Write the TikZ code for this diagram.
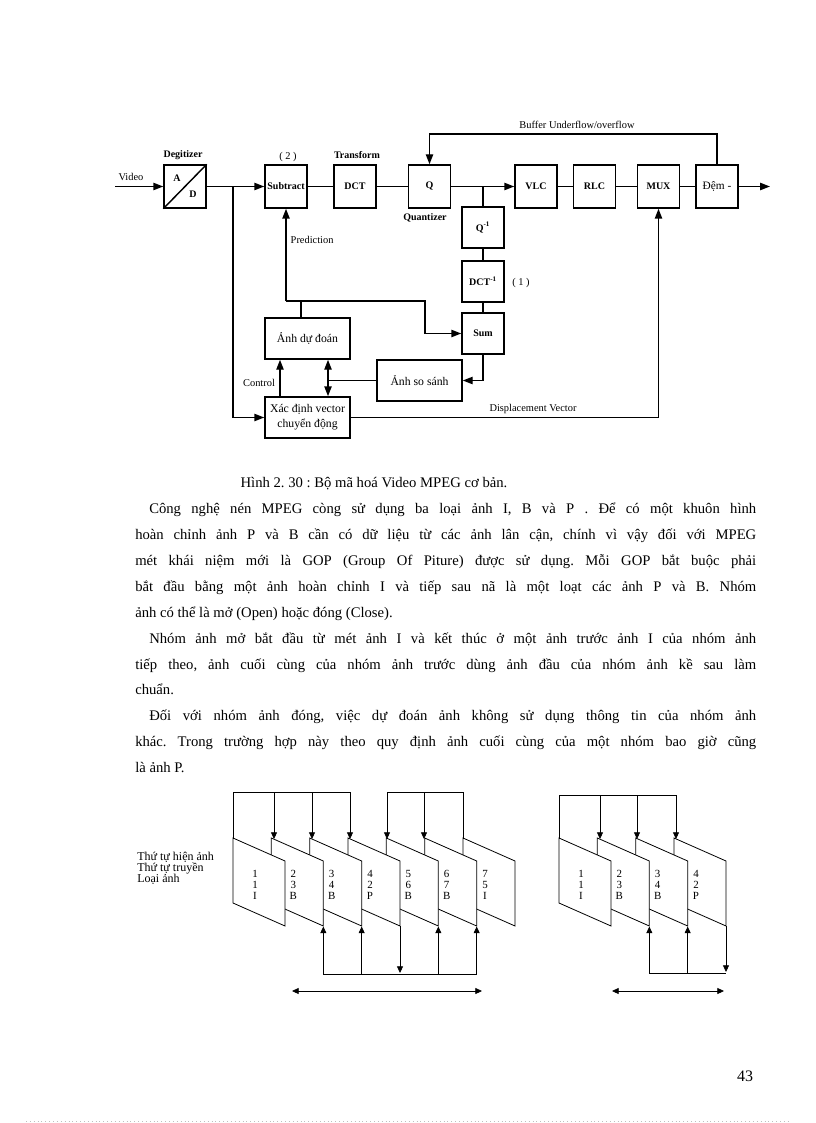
\documentclass[tikz,border=0pt]{standalone}
\usepackage{fontspec}
\setmainfont{Liberation Serif}
\usetikzlibrary{arrows.meta,calc}
\frenchspacing
\begin{document}
\begin{tikzpicture}[x=0.75pt,y=-0.75pt,
  blk/.style={draw,line width=1.1pt,inner sep=0pt,minimum width=31.5pt,minimum height=32.25pt,font=\fontsize{7.5}{8}\selectfont\bfseries},
  wblk/.style={draw,line width=1.1pt,inner sep=0pt,minimum width=63.75pt,minimum height=30.75pt,font=\fontsize{8.8}{11}\selectfont,align=center},
  lbl/.style={inner sep=0pt,font=\fontsize{7.8}{9}\selectfont},
  blbl/.style={inner sep=0pt,font=\fontsize{7.5}{9}\selectfont\bfseries},
  arr/.style={-{Triangle[length=7.5pt,width=5.5pt]}},
  dbl/.style={{Triangle[length=7.5pt,width=5.5pt]}-{Triangle[length=7.5pt,width=5.5pt]}},
  thinl/.style={line width=0.6pt},
  sarr/.style={-{Triangle[length=5pt,width=4.5pt]}},
  sdbl/.style={{Triangle[length=5pt,width=4.5pt]}-{Triangle[length=5pt,width=4.5pt]}},
  frm/.style={draw,line width=0.6pt,fill=white},
  ftxt/.style={inner sep=0pt,align=center,font=\fontsize{8.2}{8}\selectfont},
  side/.style={inner sep=0pt,anchor=west,font=\fontsize{9}{9}\selectfont},
  body/.style={inner sep=0pt,anchor=base west,font=\fontsize{11}{13}\selectfont},
]
\fill[white] (0,0) rectangle (816,1123);
\useasboundingbox (0,0) rectangle (816,1123);

% ---------------- top block diagram ----------------
\begin{scope}[line width=1.1pt]
\node[blk] (dig) at (185,186.5) {};
\draw (dig.south west) -- (dig.north east);
\node[blbl] (la) at (177,178) {A};
\node[blbl] (ld) at (193,194) {D};
\node[blk] (sub) at (286,186.5) {Subtract};
\node[blk] (dct) at (355,186.5) {DCT};
\node[blk] (q) at (429.5,186.5) {Q};
\node[blk] (vlc) at (536,186.5) {VLC};
\node[blk] (rlc) at (594.5,186.5) {RLC};
\node[blk] (mux) at (658.5,186.5) {MUX};
\node[blk,font=\fontsize{8.5}{9}\selectfont] (dem) at (717,186.5) {Đệm -};
\node[blk,minimum height=30.75pt] (qinv) at (483,227.5) {Q\textsuperscript{-1}};
\node[blk,minimum height=30.75pt] (dctinv) at (483,281.5) {DCT\textsuperscript{-1}};
\node[blk,minimum height=30.75pt] (sum) at (483,333.5) {Sum};
\node[wblk] (pred) at (307.5,338.5) {Ảnh dự đoán};
\node[wblk] (cmp) at (419.5,380.5) {Ảnh so sánh};
\node[wblk] (mv) at (307.5,417.5) {Xác định vector\\chuyển động};

% labels
\node[lbl] (lvid) at (131,177) {Video};
\node[blbl] (ldig) at (183,155) {Degitizer};
\node[lbl] (l2) at (288,157.5) {( 2 )};
\node[blbl] (ltr) at (357,155) {Transform};
\node[blbl] (lqz) at (425,218) {Quantizer};
\node[lbl] (lbuf) at (577,125) {Buffer Underflow/overflow};
\node[lbl,anchor=west] (lpred) at (290,239.5) {Prediction};
\node[lbl] (l1) at (521,283) {( 1 )};
\node[lbl] (lctl) at (259,383) {Control};
\node[lbl] (ldisp) at (533,409) {Displacement Vector};

% connectors
\coordinate (vin) at (115,186.5);
\draw[arr] (vin) -- (dig.west);
\draw[arr] (dig.east) -- (sub.west);
\coordinate (j1) at (233,186.5);
\draw[arr] (j1) |- (mv.west);
\draw (sub.east) -- (dct.west);
\draw (dct.east) -- (q.west);
\draw[arr] (q.east) -- (vlc.west);
\coordinate (j2) at (483,186.5);
\draw (j2) -- (qinv.north);
\draw (qinv.south) -- (dctinv.north);
\draw (dctinv.south) -- (sum.north);
\draw (vlc.east) -- (rlc.west);
\draw (rlc.east) -- (mux.west);
\draw (mux.east) -- (dem.west);
\coordinate (vout) at (770,186.5);
\draw[arr] (dem.east) -- (vout);
\coordinate (fb1) at (717,134);
\coordinate (fb2) at (429.5,134);
\draw[arr] (dem.north) -- (fb1) -- (fb2) -- (q.north);
\coordinate (p1) at (286,301);
\coordinate (p2) at (425,301);
\coordinate (p3) at (301,301);
\draw[arr] (p1) -- (sub.south);
\draw[arr] (p1) -- (p2) |- (sum.west);
\draw (pred.north -| p3) -- (p3);
\draw[arr] (sum.south) |- (cmp.east);
\coordinate (dv) at (328,380.5);
\draw (cmp.west) -- (dv);
\draw[dbl] (pred.south -| dv) -- (mv.north -| dv);
\coordinate (ct) at (280,380);
\draw[arr] (mv.north -| ct) -- (pred.south -| ct);
\draw[arr] (mv.east) -| (mux.south);
\end{scope}

% ---------------- text ----------------
\node[inner sep=0pt,anchor=base,font=\fontsize{11}{13}\selectfont] (cap) at (374,487.5) {Hình 2. 30 : Bộ mã hoá Video MPEG cơ bản.};
\node[body] (t1) at (149,513.5) {\makebox[455.25pt][s]{Công nghệ nén MPEG còng sử dụng ba loại ảnh I, B và P . Để có một khuôn hình}};
\node[body] (t2) at (135,539.5) {\makebox[465.75pt][s]{hoàn chỉnh ảnh P và B cần có dữ liệu từ các ảnh lân cận, chính vì vậy đối với MPEG}};
\node[body] (t3) at (135,565.5) {\makebox[465.75pt][s]{mét khái niệm mới là GOP (Group Of Piture) được sử dụng. Mỗi GOP bắt buộc phải}};
\node[body] (t4) at (135,591.5) {\makebox[465.75pt][s]{bắt đầu bằng một ảnh hoàn chỉnh I và tiếp sau nã là một loạt các ảnh P và B. Nhóm}};
\node[body] (t5) at (135,617.5) {ảnh có thể là mở (Open) hoặc đóng (Close).};
\node[body] (t6) at (149,643.5) {\makebox[455.25pt][s]{Nhóm ảnh mở bắt đầu từ mét ảnh I và kết thúc ở một ảnh trước ảnh I của nhóm ảnh}};
\node[body] (t7) at (135,669.5) {\makebox[465.75pt][s]{tiếp theo, ảnh cuối cùng của nhóm ảnh trước dùng ảnh đầu của nhóm ảnh kề sau làm}};
\node[body] (t8) at (135,694.5) {chuẩn.};
\node[body] (t9) at (149,720.5) {\makebox[455.25pt][s]{Đối với nhóm ảnh đóng, việc dự đoán ảnh không sử dụng thông tin của nhóm ảnh}};
\node[body] (t10) at (135,746.5) {\makebox[465.75pt][s]{khác. Trong trường hợp này theo quy định ảnh cuối cùng của một nhóm bao giờ cũng}};
\node[body] (t11) at (135,772.5) {là ảnh P.};

% ---------------- GOP diagrams ----------------
\node[side] (s1) at (137,857) {Thứ tự hiện ảnh};
\node[side] (s2) at (137,868) {Thứ tự truyền};
\node[side] (s3) at (137,879) {Loại ảnh};

% group 1 frames, back to front
\foreach \i/\xo/\t in {7/463/{7\\5\\I},6/424.67/{6\\7\\B},5/386.33/{5\\6\\B},4/348/{4\\2\\P},3/309.67/{3\\4\\B},2/271.33/{2\\3\\B},1/233/{1\\1\\I}}{
  \draw[frm] (\xo,838) -- ++(52,23) -- ++(0,65) -- ++(-52,-23) -- cycle;
  \node[ftxt] (ga\i) at (\xo+22,885) {\t};
}
\begin{scope}[thinl]
\draw (233,838) -- (233,792) -- (350,792);
\foreach \x in {274,312,350} \draw[sarr] (\x,792) -- (\x,839);
\draw (387,792) -- (463,792) -- (463,838);
\foreach \x in {387,424} \draw[sarr] (\x,792) -- (\x,839);
\draw (323.33,974) -- (476.67,974);
\foreach \x in {323.33,361.67,438.33,476.67} \draw[sarr] (\x,974) -- (\x,926.5);
\draw[sarr] (400,926) -- (400,973);
\draw[sdbl] (292,991) -- (482,991);
\end{scope}

% group 2 frames
\foreach \i/\xo/\t in {4/674/{4\\2\\P},3/635.67/{3\\4\\B},2/597.33/{2\\3\\B},1/559/{1\\1\\I}}{
  \draw[frm] (\xo,838) -- ++(52,23) -- ++(0,65) -- ++(-52,-23) -- cycle;
  \node[ftxt] (gb\i) at (\xo+22,885) {\t};
}
\begin{scope}[thinl]
\draw (559,838) -- (559,795) -- (676,795);
\foreach \x in {600,637,676} \draw[sarr] (\x,795) -- (\x,839);
\draw (649.33,973) -- (726,973);
\foreach \x in {649.33,687.67} \draw[sarr] (\x,973) -- (\x,926.5);
\draw[sarr] (726,926) -- (726,972);
\draw[sdbl] (612,991) -- (724,991);
\end{scope}

% page number and footer dots
\node[inner sep=0pt,font=\fontsize{12}{14}\selectfont] (pg) at (745,1076) {43};
\draw[gray!50,line width=0.6pt,dash pattern=on 0.6pt off 2.3pt] (26,1121.5) -- (791,1121.5);
\end{tikzpicture}
\end{document}
